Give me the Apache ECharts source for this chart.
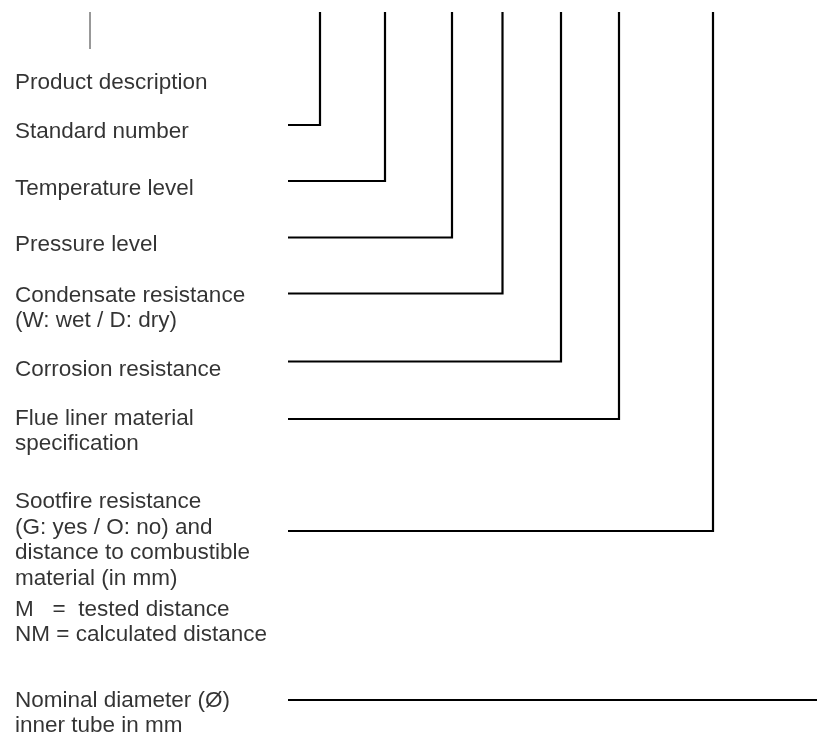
<!DOCTYPE html>
<html>
<head>
<meta charset="utf-8">
<script src="https://cdn.jsdelivr.net/npm/echarts@6/dist/echarts.min.js"></script>
<style>
html,body{margin:0;padding:0;background:#fff;}
#chart{width:817px;height:740px;}
</style>
</head>
<body>
<div id="chart"></div>
<script>
// Label blocks (text lines) and first-line baseline positions
const labelLines = [
  ["Product description"],
  ["Standard number"],
  ["Temperature level"],
  ["Pressure level"],
  ["Condensate resistance", "(W: wet / D: dry)"],
  ["Corrosion resistance"],
  ["Flue liner material", "specification"],
  ["Sootfire resistance", "(G: yes / O: no) and", "distance to combustible", "material (in mm)"],
  ["M   =  tested distance", "NM = calculated distance"],
  ["Nominal diameter (\u00D8)", "inner tube in mm"]
];
const labelBaseline = [90.7, 139.3, 196.7, 253, 303.3, 377.3, 426.7, 510, 617.7, 708.3];

// Leader lines: horizontal level and the column each one rises to
const leaderY = [125, 181, 237.5, 293.5, 361.5, 419, 531, 700];
const leaderX = [320, 385, 452, 502.5, 561, 619, 713, null];
const leaderStartX = 288;
const leaderTopY = 12;
const leaderEndX = 817;   // bottom line has no riser, runs to the edge
const markerX = 90;       // thin marker at top-left
const markerY = [12, 49];

const textX = 15;
const lineGap = 25.5;
const fontSize = 22.5;
const baselineToMiddle = 8;

const textData = [];
labelLines.forEach((lines, b) => {
  lines.forEach((t, i) => {
    textData.push({ value: [textX, labelBaseline[b] + i * lineGap - baselineToMiddle], name: t });
  });
});

const series = [];
leaderY.forEach((y, i) => {
  const x = leaderX[i];
  const data = x == null
    ? [[leaderStartX, y], [leaderEndX, y]]
    : [[leaderStartX, y], [x, y], [x, leaderTopY]];
  series.push({
    type: 'line', data: data, symbol: 'none', silent: true, animation: false,
    lineStyle: { color: '#000', width: 2.2, join: 'miter', cap: 'butt' }
  });
});
series.push({
  type: 'line', data: [[markerX, markerY[0]], [markerX, markerY[1]]], symbol: 'none',
  silent: true, animation: false, lineStyle: { color: '#333', width: 1 }
});
series.push({
  type: 'scatter', data: textData, symbolSize: 0, silent: true, animation: false,
  label: {
    show: true, position: 'right', distance: 0,
    formatter: p => p.name,
    color: '#000', fontSize: fontSize, fontFamily: 'Liberation Sans, Arial, sans-serif'
  }
});

const chart = echarts.init(document.getElementById('chart'), null, { renderer: 'canvas' });
chart.setOption({
  backgroundColor: '#fff',
  animation: false,
  grid: { left: 0, right: 0, top: 0, bottom: 0 },
  xAxis: { type: 'value', min: 0, max: 817, show: false },
  yAxis: { type: 'value', min: 0, max: 740, inverse: true, show: false },
  series: series
});
</script>
</body>
</html>
